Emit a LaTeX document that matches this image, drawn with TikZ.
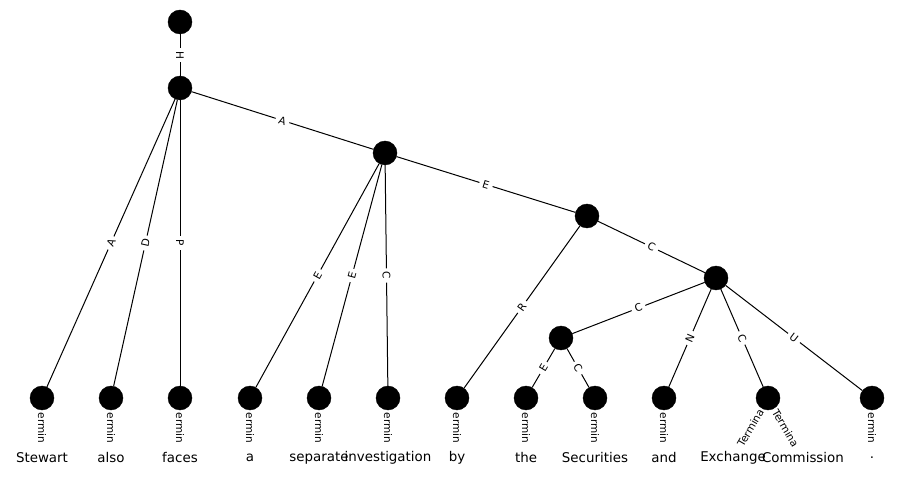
\documentclass[tikz,border=0pt]{standalone}
\usepackage{fontspec}
\setmainfont{DejaVu Sans}
\begin{document}
\begin{tikzpicture}[x=1pt,y=-1pt,
  vert/.style={circle, fill=black, draw=black, minimum size=24pt, inner sep=0pt},
  elab/.style={font=\fontsize{10.5}{12}\selectfont, fill=white, inner xsep=3.5pt, inner ysep=1pt, sloped},
  down/.style={allow upside down},
  tlab/.style={font=\fontsize{10.5}{12}\selectfont, inner sep=0pt, sloped},
  word/.style={font=\fontsize{13.4}{16}\selectfont, inner sep=0pt},
  link/.style={line width=1pt}]
\useasboundingbox (0,0) rectangle (914,481);

% inner vertices
\node[vert] (r)  at (180,22)  {};
\node[vert] (n1) at (180,88)  {};
\node[vert] (n2) at (385,153) {};
\node[vert] (n3) at (587,216) {};
\node[vert] (n4) at (716,278) {};
\node[vert] (n5) at (561,338) {};

% leaves
\node[vert] (l1)  at (42,398)  {};
\node[vert] (l2)  at (111,398) {};
\node[vert] (l3)  at (180,398) {};
\node[vert] (l4)  at (250,398) {};
\node[vert] (l5)  at (319,398) {};
\node[vert] (l6)  at (388,398) {};
\node[vert] (l7)  at (457,398) {};
\node[vert] (l8)  at (526,398) {};
\node[vert] (l9)  at (595,398) {};
\node[vert] (l10) at (664,398) {};
\node[vert] (l11) at (768,398) {};
\node[vert] (l12) at (872,398) {};

% words
\node[word] (w1)  at (42,458)  {Stewart};
\node[word] (w2)  at (111,458) {also};
\node[word] (w3)  at (180,458) {faces};
\node[word] (w4)  at (250,458) {a};
\node[word] (w5)  at (319,458) {separate};
\node[word] (w6)  at (388,458) {investigation};
\node[word] (w7)  at (457,458) {by};
\node[word] (w8)  at (526,458) {the};
\node[word] (w9)  at (595,458) {Securities};
\node[word] (w10) at (664,458) {and};
\node[word] (w11) at (733,458) {Exchange};
\node[word] (w12) at (803,458) {Commission};
\node[word] (w13) at (872,458) {.};

% tree edges
\draw[link] (r)  -- node[elab,down] {H} (n1);
\draw[link] (n1) -- node[elab] {A} (l1);
\draw[link] (n1) -- node[elab] {D} (l2);
\draw[link] (n1) -- node[elab,down] {P} (l3);
\draw[link] (n1) -- node[elab] {A} (n2);
\draw[link] (n2) -- node[elab] {E} (l4);
\draw[link] (n2) -- node[elab] {E} (l5);
\draw[link] (n2) -- node[elab] {C} (l6);
\draw[link] (n2) -- node[elab] {E} (n3);
\draw[link] (n3) -- node[elab] {R} (l7);
\draw[link] (n3) -- node[elab] {C} (n4);
\draw[link] (n4) -- node[elab] {C} (n5);
\draw[link] (n5) -- node[elab] {E} (l8);
\draw[link] (n5) -- node[elab] {C} (l9);
\draw[link] (n4) -- node[elab] {N} (l10);
\draw[link] (n4) -- node[elab] {C} (l11);
\draw[link] (n4) -- node[elab] {U} (l12);

% terminal links (labels only)
\foreach \i in {1,...,10} {
  \path (l\i.center) -- node[tlab,down] {ermin} (w\i.center);
}
\path (l12.center) -- node[tlab,down] {ermin} (w13.center);
\path (l11.center) -- node[tlab] {Termina} (w11.center);
\path (l11.center) -- node[tlab] {Termina} (w12.center);
\end{tikzpicture}
\end{document}
